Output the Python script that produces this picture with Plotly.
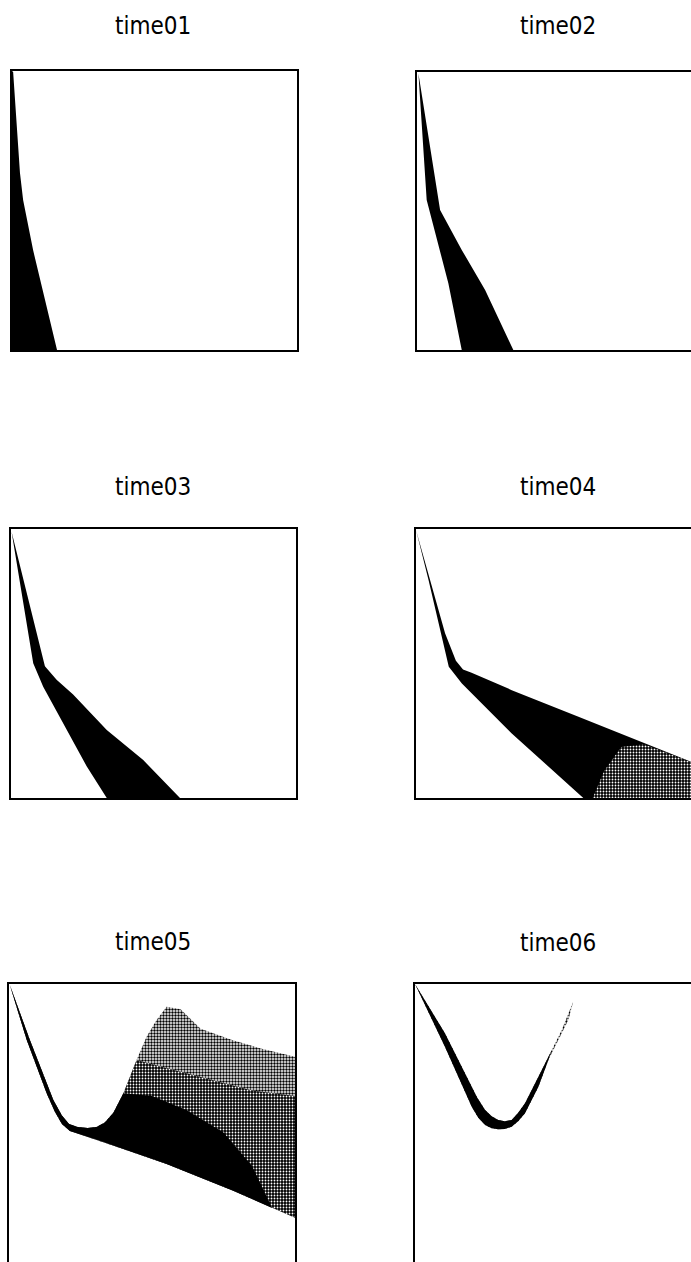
import plotly.graph_objects as go

# Boundary points of the filled bands
# (x: 0 = left edge of box, 1 = right edge; y: 0 = bottom, 1 = top)
titles = ['time01', 'time02', 'time03', 'time04', 'time05', 'time06']

# time01: band hugging the left edge
p1_x = [0.0, 0.004, 0.028, 0.039, 0.074, 0.109, 0.158, 0.0]
p1_y = [1.0, 0.996, 0.634, 0.538, 0.358, 0.204, 0.0, 0.0]

# time02: outer (right) edge then inner (left) edge
p2_outer_x = [0.005, 0.081, 0.157, 0.239, 0.338]
p2_outer_y = [0.995, 0.504, 0.360, 0.216, 0.0]
p2_inner_x = [0.005, 0.034, 0.063, 0.110, 0.157]
p2_inner_y = [0.995, 0.540, 0.420, 0.240, 0.0]

# time03
p3_outer_x = [0.002, 0.119, 0.160, 0.218, 0.336, 0.464, 0.593]
p3_outer_y = [0.990, 0.490, 0.440, 0.385, 0.253, 0.141, 0.0]
p3_inner_x = [0.002, 0.040, 0.078, 0.113, 0.195, 0.266, 0.336]
p3_inner_y = [0.990, 0.750, 0.501, 0.414, 0.253, 0.117, 0.0]

# time04
p4_outer_x = [0.0, 0.102, 0.140, 0.165, 0.195, 0.336, 0.570, 0.804, 0.965, 1.0, 1.0]
p4_outer_y = [0.996, 0.612, 0.510, 0.478, 0.466, 0.401, 0.302, 0.203, 0.135, 0.12, 0.0]
p4_inner_x = [0.0, 0.044, 0.115, 0.161, 0.336, 0.587]
p4_inner_y = [0.996, 0.810, 0.488, 0.426, 0.240, 0.0]
p4_speckle_x = [0.62, 0.66, 0.72, 0.80, 0.90, 1.0, 1.0]
p4_speckle_y = [0.0, 0.10, 0.19, 0.20, 0.16, 0.12, 0.0]

# time05: U band with a wedge fanning out to the right
p5_upper_x = [0.003, 0.073, 0.155, 0.185, 0.210, 0.240, 0.275, 0.306, 0.335, 0.365, 0.400,
              0.446, 0.481, 0.516, 0.551]
p5_upper_y = [0.996, 0.800, 0.586, 0.530, 0.500, 0.489, 0.486, 0.489, 0.505, 0.540, 0.610,
              0.729, 0.812, 0.871, 0.919]
p5_lower_x = [0.003, 0.062, 0.132, 0.160, 0.185, 0.213, 0.318, 0.551, 0.784, 1.0]
p5_lower_y = [0.996, 0.800, 0.609, 0.545, 0.500, 0.475, 0.440, 0.357, 0.262, 0.165]
p5_top_fuzz_x = [0.60, 0.67, 0.78, 0.88, 1.0]
p5_top_fuzz_y = [0.91, 0.84, 0.80, 0.77, 0.74]
p5_mid_edge_x = [0.55, 0.70, 0.85, 1.0]
p5_mid_edge_y = [0.70, 0.66, 0.62, 0.60]
p5_core_edge_x = [0.50, 0.62, 0.75, 0.85, 0.92]
p5_core_edge_y = [0.60, 0.55, 0.47, 0.35, 0.20]

# time06: narrow U band, sparse at its right tip
p6_outer_x = [0.0, 0.105, 0.199, 0.222, 0.246, 0.269, 0.292, 0.315, 0.339, 0.362, 0.386,
              0.433, 0.468, 0.503, 0.538, 0.555]
p6_outer_y = [1.0, 0.776, 0.562, 0.522, 0.496, 0.485, 0.481, 0.482, 0.490, 0.510, 0.538,
              0.633, 0.729, 0.800, 0.871, 0.937]
p6_inner_x = [0.0, 0.105, 0.187, 0.218, 0.246, 0.269, 0.292, 0.315, 0.339, 0.362, 0.386,
              0.433, 0.480, 0.515]
p6_inner_y = [1.0, 0.824, 0.657, 0.595, 0.550, 0.528, 0.514, 0.510, 0.514, 0.540, 0.574,
              0.669, 0.764, 0.836]


def band(ox, oy, ix, iy):
    # closed outline: outer edge forward, inner edge back
    return ox + ix[::-1], oy + iy[::-1]


def poly(x, y, n, pattern=None):
    tr = go.Scatter(x=x, y=y, mode='lines', fill='toself', line=dict(width=0),
                    fillcolor='black', hoverinfo='skip', showlegend=False,
                    xaxis='x' + n, yaxis='y' + n)
    if pattern:
        tr.fillpattern = pattern
    return tr


light_dots = dict(shape='.', fgcolor='black', bgcolor='white', size=3, solidity=0.5, fillmode='replace')
dark_dots = dict(shape='.', fgcolor='white', bgcolor='black', size=3, solidity=0.3, fillmode='replace')

fig = go.Figure()

fig.add_trace(poly(p1_x, p1_y, '1'))
fig.add_trace(poly(*band(p2_outer_x, p2_outer_y, p2_inner_x, p2_inner_y), '2'))
fig.add_trace(poly(*band(p3_outer_x, p3_outer_y, p3_inner_x, p3_inner_y), '3'))
fig.add_trace(poly(*band(p4_outer_x, p4_outer_y, p4_inner_x, p4_inner_y), '4'))
fig.add_trace(poly(p4_speckle_x, p4_speckle_y, '4', dark_dots))

# time05 layers: light speckle envelope, darker speckle, solid core
n_arm = p5_upper_x.index(0.446)
n_core = p5_upper_x.index(0.400)
env_x = p5_upper_x + p5_top_fuzz_x + p5_lower_x[::-1]
env_y = p5_upper_y + p5_top_fuzz_y + p5_lower_y[::-1]
fig.add_trace(poly(env_x, env_y, '5', light_dots))
mid_x = p5_upper_x[:n_arm + 1] + p5_mid_edge_x + p5_lower_x[::-1]
mid_y = p5_upper_y[:n_arm + 1] + p5_mid_edge_y + p5_lower_y[::-1]
fig.add_trace(poly(mid_x, mid_y, '5', dark_dots))
core_x = p5_upper_x[:n_core + 1] + p5_core_edge_x + p5_lower_x[:-1][::-1]
core_y = p5_upper_y[:n_core + 1] + p5_core_edge_y + p5_lower_y[:-1][::-1]
fig.add_trace(poly(core_x, core_y, '5'))

# time06: solid band and sparse tip
n_out = p6_outer_x.index(0.468)
n_in = p6_inner_x.index(0.433)
fig.add_trace(poly(*band(p6_outer_x, p6_outer_y, p6_inner_x, p6_inner_y), '6', light_dots))
fig.add_trace(poly(*band(p6_outer_x[:n_out + 1], p6_outer_y[:n_out + 1],
                         p6_inner_x[:n_in + 2], p6_inner_y[:n_in + 2]), '6'))

W, H = 691, 1262
# box positions in pixels: left, right, top, bottom (some run past the page)
boxes = [(12, 297, 71, 350), (417, 702, 72, 350),
         (11, 296, 529, 798), (416, 701, 529, 798),
         (9, 295, 984, 1264), (415, 700, 984, 1264)]
title_pos = [(153, 26), (558, 26), (153, 487), (558, 487), (153, 942), (558, 943)]

layout = dict(width=W, height=H, margin=dict(l=0, r=0, t=0, b=0),
              paper_bgcolor='white', plot_bgcolor='white', showlegend=False)
annotations = []
for i, (l, r, t, b) in enumerate(boxes):
    n = str(i + 1)
    key = '' if i == 0 else n
    xr = (min(r, W) - l) / (r - l)
    yb = (b - min(b, H)) / (b - t)
    right_col = r > W
    bottom_row = b > H
    layout['xaxis' + key] = dict(domain=[l / W, min(r, W) / W], range=[0, xr],
                                 showgrid=False, zeroline=False, showticklabels=False,
                                 ticks='', showline=True, linecolor='black', linewidth=1.5,
                                 mirror=not bottom_row, side='top' if bottom_row else 'bottom',
                                 anchor='y' + n, fixedrange=True)
    layout['yaxis' + key] = dict(domain=[(H - min(b, H)) / H, (H - t) / H], range=[yb, 1],
                                 showgrid=False, zeroline=False, showticklabels=False,
                                 ticks='', showline=True, linecolor='black', linewidth=1.5,
                                 mirror=not right_col, anchor='x' + n, fixedrange=True)
    tx, ty = title_pos[i]
    annotations.append(dict(text=titles[i], x=tx / W, y=1 - ty / H, xref='paper', yref='paper',
                            xanchor='center', yanchor='middle', showarrow=False,
                            font=dict(family='Liberation Sans Narrow, DejaVu Sans Condensed, Roboto, sans-serif',
                                      size=24, color='black')))
layout['annotations'] = annotations
fig.update_layout(**layout)

# drop the browser's default page margin so the figure sits at 0,0
fig.write_html('out.html', config={'displayModeBar': False},
               post_script="document.body.style.margin='0';")
